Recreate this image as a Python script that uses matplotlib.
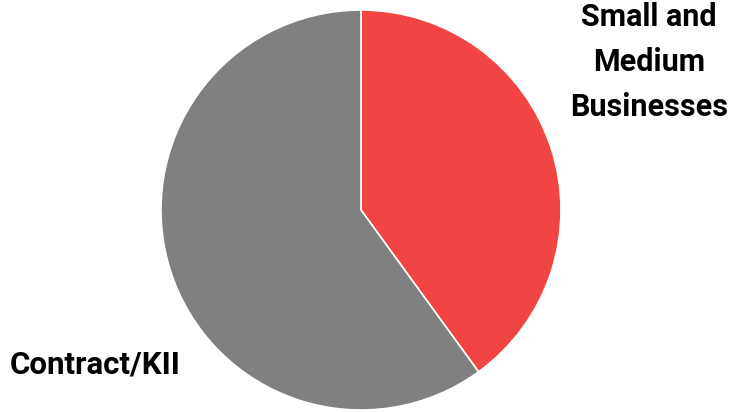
import matplotlib
matplotlib.use("Agg")
import matplotlib.pyplot as plt
from matplotlib import font_manager

segments = ["Small and\nMedium\nBusinesses", "Contract/KII"]
shares = [40, 60]
colors = ["#F04542", "#808080"]

available = {f.name for f in font_manager.fontManager.ttflist}
family = [f for f in ["Liberation Sans Narrow", "Roboto", "DejaVu Sans"] if f in available]
plt.rcParams["font.family"] = family

W, H = 733, 412
fig = plt.figure(figsize=(W / 100, H / 100), dpi=100)
ax = fig.add_axes([0, 0, 1, 1])
ax.set_xlim(0, W)
ax.set_ylim(0, H)
ax.set_aspect("equal")
ax.axis("off")

ax.pie(shares, colors=colors, startangle=90, counterclock=False,
       center=(361, H - 210), radius=200,
       wedgeprops=dict(edgecolor="white", linewidth=1.2))
ax.set_xlim(0, W)
ax.set_ylim(0, H)

ax.text(649, H - 62, segments[0], ha="center", va="center",
        fontsize=22, fontweight="bold", fontstretch="condensed",
        linespacing=1.64, color="black")
ax.text(10, H - 365, segments[1], ha="left", va="center",
        fontsize=22.5, fontweight="bold", fontstretch="condensed", color="black")

fig.savefig("out.png", dpi=100)
